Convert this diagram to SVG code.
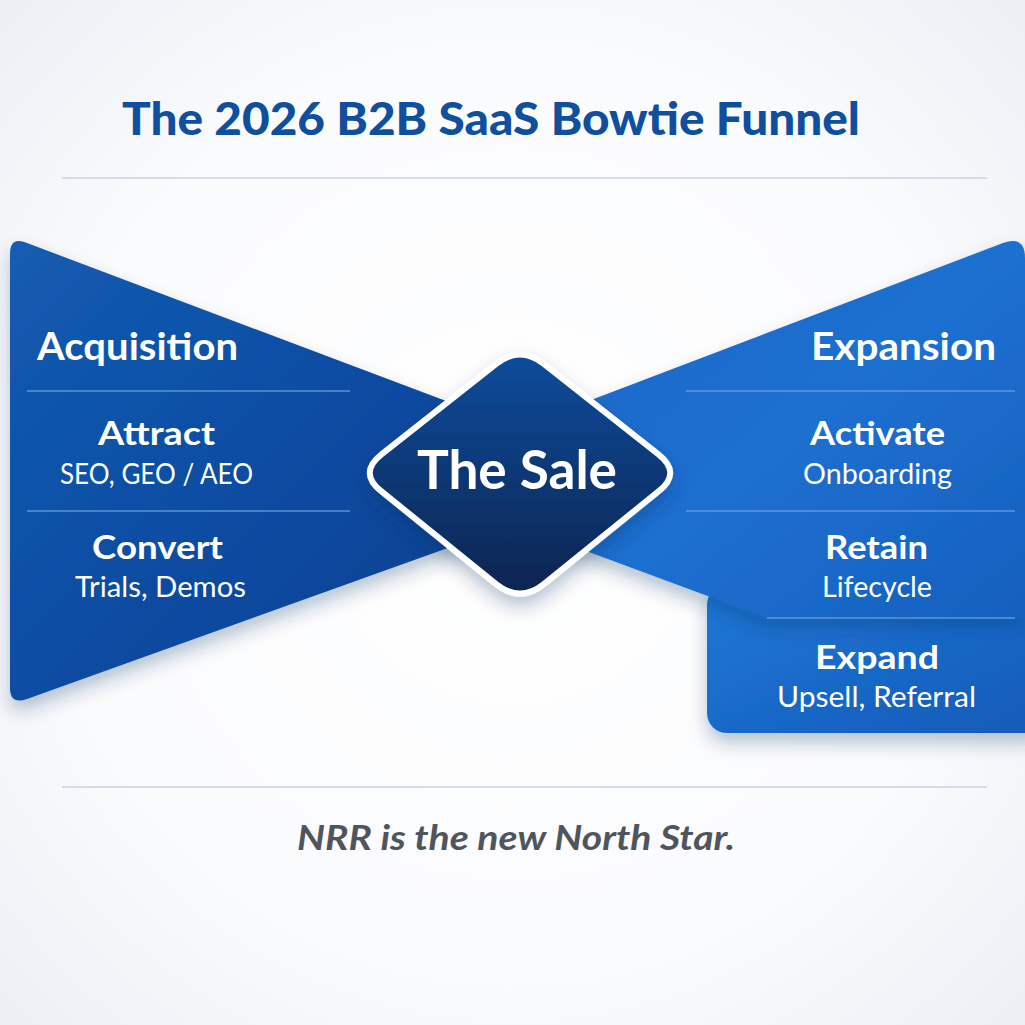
<svg xmlns="http://www.w3.org/2000/svg" width="1025" height="1025" viewBox="0 0 1025 1025">
<defs>
<radialGradient id="bg" cx="50%" cy="50%" r="75%">
<stop offset="0" stop-color="#ffffff"/><stop offset="0.6" stop-color="#fafbfd"/><stop offset="1" stop-color="#e9edf3"/>
</radialGradient>
<linearGradient id="gl" x1="0" y1="0" x2="1" y2="1">
<stop offset="0" stop-color="#135cb2"/><stop offset="0.6" stop-color="#0d4aa0"/><stop offset="1" stop-color="#0a3d8c"/>
</linearGradient>
<linearGradient id="gr" x1="0" y1="0" x2="1" y2="1">
<stop offset="0" stop-color="#1a68c8"/><stop offset="0.5" stop-color="#1d6fd0"/><stop offset="1" stop-color="#1660bf"/>
</linearGradient>
<linearGradient id="gx" x1="0" y1="0" x2="1" y2="1">
<stop offset="0" stop-color="#1f78d8"/><stop offset="1" stop-color="#135ab8"/>
</linearGradient>
<linearGradient id="gd" x1="0" y1="0" x2="0" y2="1">
<stop offset="0" stop-color="#0e4c9c"/><stop offset="1" stop-color="#07244f"/>
</linearGradient>
<filter id="sh" x="-20%" y="-20%" width="140%" height="150%">
<feDropShadow dx="0" dy="10" stdDeviation="9" flood-color="#0a2a5c" flood-opacity="0.28"/>
</filter>
<style>
.h{font-family:Lato,"Open Sans",sans-serif;font-weight:700;fill:#ffffff;text-anchor:middle;font-size:32px}
.big{font-size:38px}
.s{font-family:Lato,"Open Sans",sans-serif;font-weight:400;fill:#ffffff;text-anchor:middle;font-size:28px}
.div{stroke:#6ea3e6;stroke-width:1.5;opacity:0.8}
.rule{stroke:#c9d3e0;stroke-width:1.5}
</style>
</defs>
<rect width="1025" height="1025" fill="url(#bg)"/>
<text x="491" y="135" font-family="Lato,'Open Sans',sans-serif" font-weight="900" font-size="45" fill="#0f4f9e" text-anchor="middle" textLength="738" lengthAdjust="spacingAndGlyphs">The 2026 B2B SaaS Bowtie Funnel</text>
<line class="rule" x1="62" y1="178" x2="987" y2="178"/>

<g id="left-wing">
<path d="M10,254 Q10,236 27,243 L470,410 L470,540 L27,699 Q10,705 10,688 Z" fill="url(#gl)" filter="url(#sh)"/>
<line class="div" x1="27" y1="391" x2="350" y2="391"/>
<line class="div" x1="27" y1="511" x2="350" y2="511"/>
<text class="h big" x="137.5" y="360" textLength="201" lengthAdjust="spacingAndGlyphs">Acquisition</text>
<text class="h" x="156.5" y="445" textLength="117" lengthAdjust="spacingAndGlyphs">Attract</text>
<text class="s" x="156.5" y="484" textLength="193" lengthAdjust="spacingAndGlyphs">SEO, GEO / AEO</text>
<text class="h" x="157.5" y="559" textLength="131" lengthAdjust="spacingAndGlyphs">Convert</text>
<text class="s" x="160.5" y="597" textLength="171" lengthAdjust="spacingAndGlyphs">Trials, Demos</text>
</g>

<g id="right-wing">
<rect x="707" y="585" width="340" height="148" rx="20" fill="url(#gx)" filter="url(#sh)"/>
<path d="M570,408 L1003,243 Q1025,235 1025,258 L1025,618 L767,618 L570,545 Z" fill="url(#gr)" filter="url(#sh)"/>
<line class="div" x1="686" y1="391" x2="1015" y2="391"/>
<line class="div" x1="686" y1="511" x2="1015" y2="511"/>
<line class="div" x1="767" y1="618" x2="1015" y2="618"/>
<text class="h big" x="903.5" y="360" textLength="185" lengthAdjust="spacingAndGlyphs">Expansion</text>
<text class="h" x="877.5" y="445" textLength="135" lengthAdjust="spacingAndGlyphs">Activate</text>
<text class="s" x="877.5" y="484" textLength="149" lengthAdjust="spacingAndGlyphs">Onboarding</text>
<text class="h" x="876.5" y="559" textLength="103" lengthAdjust="spacingAndGlyphs">Retain</text>
<text class="s" x="877" y="597" textLength="110" lengthAdjust="spacingAndGlyphs">Lifecycle</text>
<text class="h" x="877" y="669" textLength="124" lengthAdjust="spacingAndGlyphs">Expand</text>
<text class="s" x="876.5" y="707" textLength="199" lengthAdjust="spacingAndGlyphs">Upsell, Referral</text>
</g>

<g id="the-sale">
<path d="M543.5,363.6 L658.5,454.4 Q682,473 658.5,491.4 L543.5,584.4 Q520,603 496.5,584.4 L381.5,491.4 Q358,473 381.5,454.4 L496.5,363.6 Q520,345 543.5,363.6 Z" fill="url(#gd)" stroke="#ffffff" stroke-width="6" stroke-linejoin="round" filter="url(#sh)"/>
<text class="h" x="517" y="489" style="font-size:54px" textLength="200" lengthAdjust="spacingAndGlyphs">The Sale</text>
</g>

<line class="rule" x1="62" y1="787" x2="987" y2="787"/>
<text x="516" y="850" font-family="Lato,'Open Sans',sans-serif" font-weight="700" font-style="italic" font-size="35" fill="#50555d" text-anchor="middle" textLength="438" lengthAdjust="spacingAndGlyphs">NRR is the new North Star.</text>
</svg>
